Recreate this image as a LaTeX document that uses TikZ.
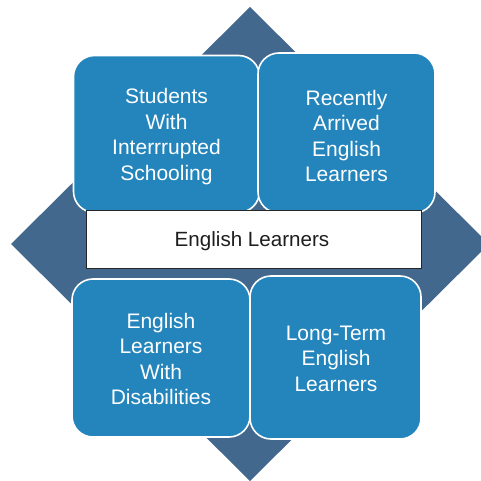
\documentclass[tikz,border=0pt]{standalone}
\usepackage{fontspec}
\setmainfont{Liberation Sans}
\definecolor{diam}{HTML}{43688E}
\definecolor{boxblue}{HTML}{2385BC}
\definecolor{txtdark}{HTML}{1E1E1E}
\tikzset{
  catbox/.style={draw=white, line width=1.6pt, fill=boxblue, rounded corners=21pt, inner sep=0pt},
  cattext/.style={text=white, align=center, inner sep=0pt, font=\fontsize{21}{25.6}\selectfont},
  centerbox/.style={draw=black!85, line width=0.9pt, fill=white, inner sep=0pt},
  centertext/.style={text=txtdark, inner sep=0pt, font=\fontsize{20.6}{24}\selectfont}
}
\begin{document}
\begin{tikzpicture}[x=1pt,y=-1pt]
\useasboundingbox (0,0) rectangle (481,481);
\begin{scope}
\clip (0,0) rectangle (481,481);
\fill[diam] (250,7) coordinate (dt) -- (489,244) coordinate (dr) -- (250,481) coordinate (db) -- (11,244) coordinate (dl) -- cycle;
\end{scope}
\node[catbox, minimum width=186pt, minimum height=157pt] (swis) at (166.5,134) {};
\node[cattext] (swist) at (166.5,136.5) {Students\\With\\Interrrupted\\Schooling};
\node[catbox, minimum width=177pt, minimum height=160pt] (rael) at (346.5,133) {};
\node[cattext] (raelt) at (346.5,136) {Recently\\Arrived\\English\\Learners};
\node[centerbox, minimum width=335pt, minimum height=58pt] (el) at (253.5,239) {};
\node[centertext] (elt) at (252,241.5) {English Learners};
\node[catbox, minimum width=178pt, minimum height=158pt] (elwd) at (161,358) {};
\node[cattext] (elwdt) at (161,359) {English\\Learners\\With\\Disabilities};
\node[catbox, minimum width=171pt, minimum height=163pt] (ltel) at (335.5,357.5) {};
\node[cattext] (ltelt) at (336,358.5) {Long-Term\\English\\Learners};
\end{tikzpicture}
\end{document}
